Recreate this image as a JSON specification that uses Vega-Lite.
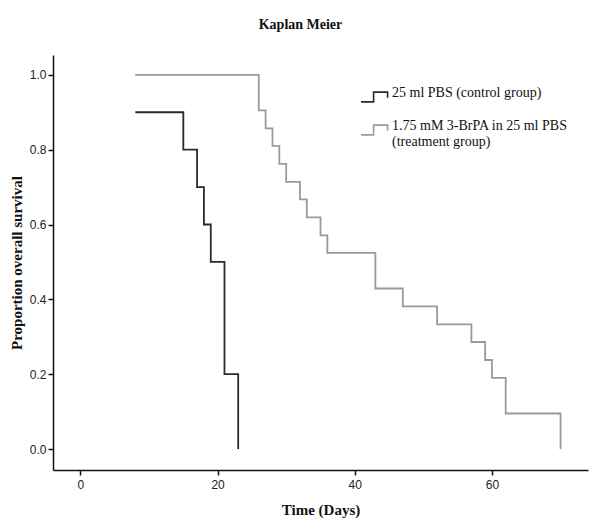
{
  "$schema": "https://vega.github.io/schema/vega-lite/v6.json",
  "autosize": {"type": "none"},
  "padding": {"left": 53, "top": 55, "right": 12, "bottom": 56},
  "width": 535,
  "height": 415,
  "background": "white",
  "title": {
    "text": "Kaplan Meier",
    "font": "Liberation Serif",
    "fontSize": 14,
    "fontWeight": "bold",
    "color": "#111",
    "anchor": "middle",
    "dx": -20,
    "offset": 23
  },
  "config": {
    "view": {"stroke": null},
    "axis": {
      "grid": false,
      "domainColor": "#111",
      "domainWidth": 1.5,
      "tickColor": "#111",
      "tickWidth": 1.5,
      "tickSize": 5,
      "labelFont": "Liberation Sans",
      "labelFontSize": 12,
      "labelColor": "#222",
      "titleFont": "Liberation Serif",
      "titleFontSize": 15,
      "titleFontWeight": "bold",
      "titleColor": "#111"
    }
  },
  "data": {
    "values": [
      {"group": "25 ml PBS (control group)", "time": 8, "survival": 0.9},
      {"group": "25 ml PBS (control group)", "time": 15, "survival": 0.8},
      {"group": "25 ml PBS (control group)", "time": 17, "survival": 0.7},
      {"group": "25 ml PBS (control group)", "time": 18, "survival": 0.6},
      {"group": "25 ml PBS (control group)", "time": 19, "survival": 0.5},
      {"group": "25 ml PBS (control group)", "time": 21, "survival": 0.2},
      {"group": "25 ml PBS (control group)", "time": 23, "survival": 0.0},
      {"group": "1.75 mM 3-BrPA in 25 ml PBS (treatment group)", "time": 8, "survival": 1.0},
      {"group": "1.75 mM 3-BrPA in 25 ml PBS (treatment group)", "time": 26, "survival": 0.905},
      {"group": "1.75 mM 3-BrPA in 25 ml PBS (treatment group)", "time": 27, "survival": 0.857},
      {"group": "1.75 mM 3-BrPA in 25 ml PBS (treatment group)", "time": 28, "survival": 0.810},
      {"group": "1.75 mM 3-BrPA in 25 ml PBS (treatment group)", "time": 29, "survival": 0.762},
      {"group": "1.75 mM 3-BrPA in 25 ml PBS (treatment group)", "time": 30, "survival": 0.714},
      {"group": "1.75 mM 3-BrPA in 25 ml PBS (treatment group)", "time": 32, "survival": 0.667},
      {"group": "1.75 mM 3-BrPA in 25 ml PBS (treatment group)", "time": 33, "survival": 0.619},
      {"group": "1.75 mM 3-BrPA in 25 ml PBS (treatment group)", "time": 35, "survival": 0.571},
      {"group": "1.75 mM 3-BrPA in 25 ml PBS (treatment group)", "time": 36, "survival": 0.524},
      {"group": "1.75 mM 3-BrPA in 25 ml PBS (treatment group)", "time": 43, "survival": 0.429},
      {"group": "1.75 mM 3-BrPA in 25 ml PBS (treatment group)", "time": 47, "survival": 0.381},
      {"group": "1.75 mM 3-BrPA in 25 ml PBS (treatment group)", "time": 52, "survival": 0.333},
      {"group": "1.75 mM 3-BrPA in 25 ml PBS (treatment group)", "time": 57, "survival": 0.286},
      {"group": "1.75 mM 3-BrPA in 25 ml PBS (treatment group)", "time": 59, "survival": 0.238},
      {"group": "1.75 mM 3-BrPA in 25 ml PBS (treatment group)", "time": 60, "survival": 0.190},
      {"group": "1.75 mM 3-BrPA in 25 ml PBS (treatment group)", "time": 62, "survival": 0.095},
      {"group": "1.75 mM 3-BrPA in 25 ml PBS (treatment group)", "time": 70, "survival": 0.0}
    ]
  },
  "mark": {"type": "line", "interpolate": "step-after", "strokeWidth": 1.8},
  "encoding": {
    "x": {
      "field": "time",
      "type": "quantitative",
      "title": "Time (Days)",
      "scale": {"domain": [-4, 74], "nice": false, "zero": false},
      "axis": {"values": [0, 20, 40, 60], "labelPadding": 4, "titlePadding": 12}
    },
    "y": {
      "field": "survival",
      "type": "quantitative",
      "title": "Proportion overall survival",
      "scale": {"domain": [-0.056, 1.053], "nice": false, "zero": false},
      "axis": {"values": [0, 0.2, 0.4, 0.6, 0.8, 1.0], "format": ".1f", "labelPadding": 2, "titlePadding": 5}
    },
    "color": {
      "field": "group",
      "type": "nominal",
      "scale": {
        "domain": ["25 ml PBS (control group)", "1.75 mM 3-BrPA in 25 ml PBS (treatment group)"],
        "range": ["#2a2a2a", "#9a9a9a"]
      },
      "legend": {
        "title": null,
        "orient": "none",
        "legendX": 307,
        "legendY": 27,
        "symbolType": "M-1,0.35H-0.1V-0.35H0.9V0.05",
        "symbolSize": 784,
        "symbolStrokeWidth": 1.6,
        "symbolFillColor": "transparent",
        "labelFont": "Liberation Serif",
        "labelFontSize": 14,
        "labelColor": "#111",
        "labelLimit": 400,
        "labelOffset": 2,
        "labelBaseline": "alphabetic",
        "rowPadding": 9,
        "labelExpr": "indexof(datum.label, 'treatment') >= 0 ? ['1.75 mM 3-BrPA in 25 ml PBS', '(treatment group)'] : datum.label"
      }
    }
  }
}
